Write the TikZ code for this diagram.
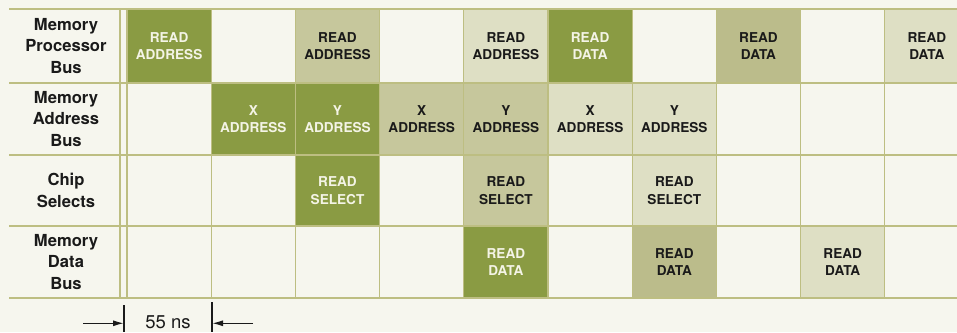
\documentclass[tikz,border=0pt]{standalone}
\usepackage{fontspec}
\setmainfont{TeX Gyre Heros}
\usetikzlibrary{arrows.meta}
\definecolor{bg}{HTML}{F6F6EE}
\definecolor{gridc}{HTML}{BDBE82}
\definecolor{dk}{HTML}{8A9B43}
\definecolor{md}{HTML}{C6C79C}
\definecolor{ol}{HTML}{BBBC8B}
\definecolor{lt}{HTML}{DEDFC4}
\definecolor{ink}{HTML}{1A1A1A}
\definecolor{wtxt}{HTML}{F4F4E6}
\begin{document}
\begin{tikzpicture}[x=1pt,y=1pt,
  cell/.style={minimum width=84.2pt, inner sep=0pt, align=center,
    font=\bfseries\fontsize{13.6}{17.5}\selectfont},
  dkcell/.style={cell, fill=dk, text=wtxt},
  mdcell/.style={cell, fill=md, text=ink},
  olcell/.style={cell, fill=ol, text=ink},
  ltcell/.style={cell, fill=lt, text=ink},
  ra/.style={minimum height=74pt},
  rb/.style={minimum height=72pt},
  rc/.style={minimum height=71pt},
  rd/.style={minimum height=72pt},
  rowlabel/.style={align=center, text=ink,
    font=\bfseries\fontsize{16.6}{21.5}\selectfont},
  gridline/.style={draw=gridc, line width=1.1pt},
  bar/.style={draw=ink, line width=1.4pt},
  arr/.style={draw=ink, line width=1.4pt, -{Latex[length=11pt,width=6pt]}},
]
\useasboundingbox (0,0) rectangle (957,332);
\fill[bg] (0,0) rectangle (957,332);

% row labels
\node[rowlabel] (lab1) at (66,286) {Memory\\Processor\\Bus};
\node[rowlabel] (lab2) at (66,213) {Memory\\Address\\Bus};
\node[rowlabel] (lab3) at (66,141.5) {Chip\\Selects};
\node[rowlabel] (lab4) at (66,70) {Memory\\Data\\Bus};

% row 1: Memory Processor Bus
\node[dkcell, ra] (a1) at (169.1,286) {READ\\ADDRESS};
\node[mdcell, ra] (a3) at (337.5,286) {READ\\ADDRESS};
\node[ltcell, ra] (a5) at (505.9,286) {READ\\ADDRESS};
\node[dkcell, ra] (a6) at (590.1,286) {READ\\DATA};
\node[olcell, ra] (a8) at (758.5,286) {READ\\DATA};
\node[ltcell, ra] (a10) at (926.9,286) {READ\\DATA};

% row 2: Memory Address Bus
\node[dkcell, rb] (b2) at (253.3,213) {X\\ADDRESS};
\node[dkcell, rb] (b3) at (337.5,213) {Y\\ADDRESS};
\node[mdcell, rb] (b4) at (421.7,213) {X\\ADDRESS};
\node[mdcell, rb] (b5) at (505.9,213) {Y\\ADDRESS};
\node[ltcell, rb] (b6) at (590.1,213) {X\\ADDRESS};
\node[ltcell, rb] (b7) at (674.3,213) {Y\\ADDRESS};

% row 3: Chip Selects
\node[dkcell, rc] (c3) at (337.5,141.5) {READ\\SELECT};
\node[mdcell, rc] (c5) at (505.9,141.5) {READ\\SELECT};
\node[ltcell, rc] (c7) at (674.3,141.5) {READ\\SELECT};

% row 4: Memory Data Bus
\node[dkcell, rd] (d5) at (505.9,70) {READ\\DATA};
\node[olcell, rd] (d7) at (674.3,70) {READ\\DATA};
\node[ltcell, rd] (d9) at (842.7,70) {READ\\DATA};

% grid
\foreach \y in {323,249,177,106,34} \draw[gridline] (9,\y) -- (957,\y);
\foreach \x in {120,127,211.2,295.4,379.6,463.8,548,632.2,716.4,800.6,884.8}
  \draw[gridline] (\x,34) -- (\x,323);

% 55 ns annotation
\coordinate (barLtop) at (124,27);
\coordinate (barLbot) at (124,0);
\coordinate (barRtop) at (212,30);
\coordinate (barRbot) at (212,0);
\draw[bar] (barLtop) -- (barLbot);
\draw[bar] (barRtop) -- (barRbot);
\coordinate (arrLstart) at (83,8.7);
\coordinate (arrRstart) at (253,8.7);
\draw[arr] (arrLstart) -- (barLtop |- arrLstart);
\draw[arr] (arrRstart) -- (barRtop |- arrRstart);
\node[text=ink, font=\fontsize{18.5}{20}\selectfont] (ns) at (168,10) {55 ns};
\end{tikzpicture}
\end{document}
